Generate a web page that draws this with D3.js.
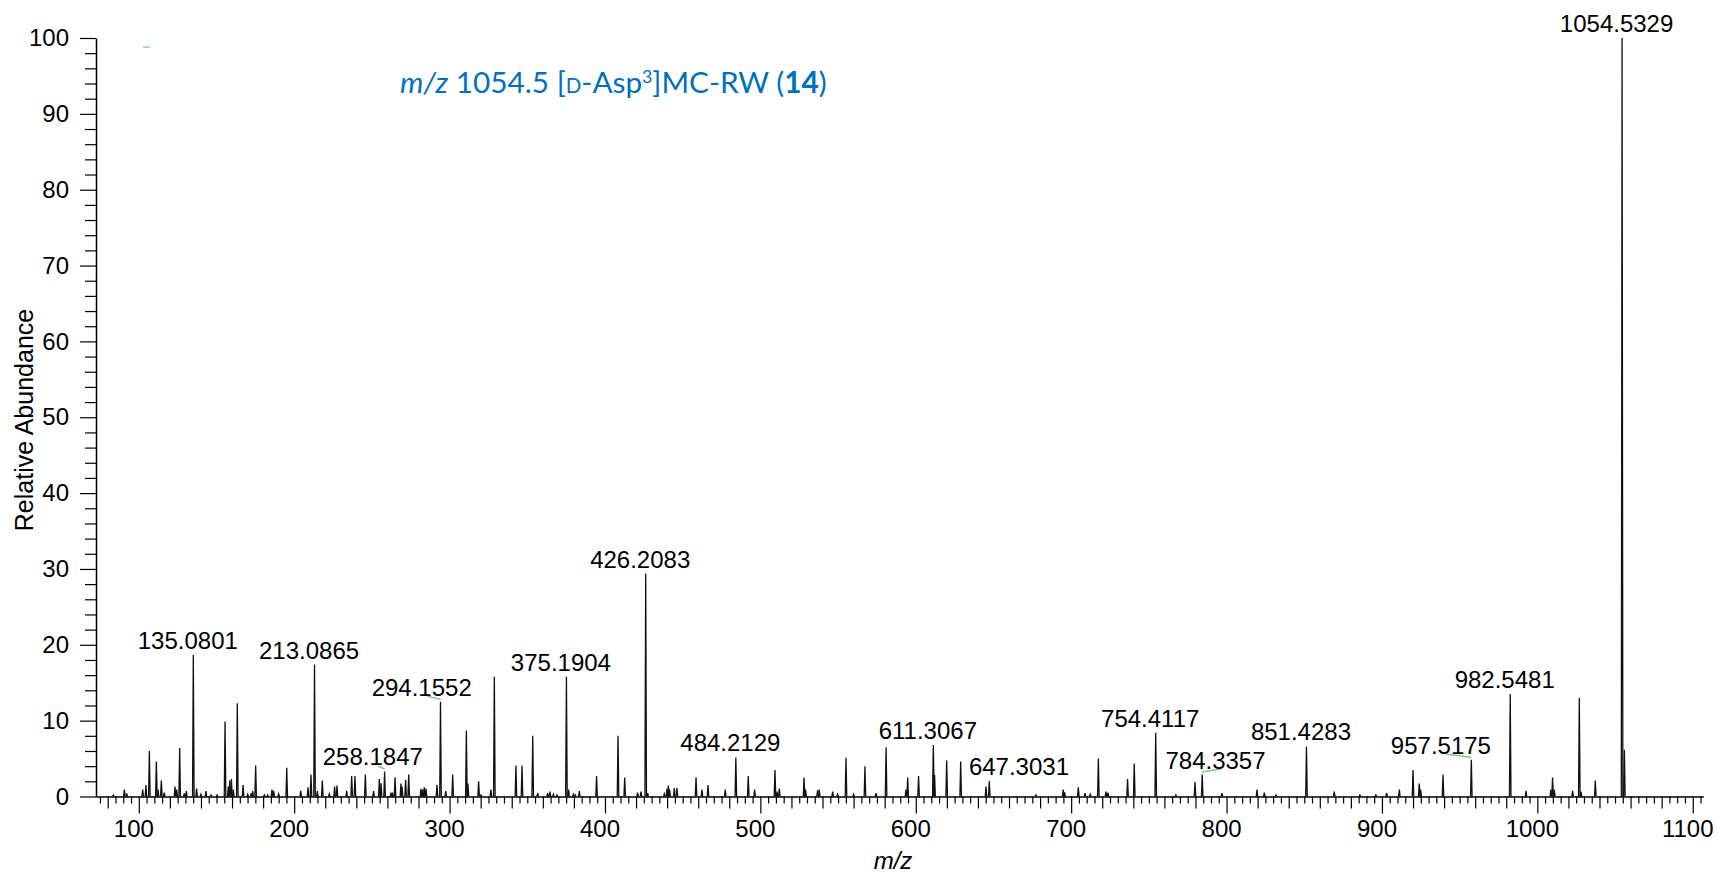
<!DOCTYPE html>
<html>
<head>
<meta charset="utf-8">
<script src="https://cdn.jsdelivr.net/npm/d3@7"></script>
<style>
  html, body { margin: 0; padding: 0; background: #fff; }
  svg { display: block; }
  text { font-family: "Liberation Sans", Arial, sans-serif; }
</style>
</head>
<body>
<svg id="chart" width="1717" height="874"></svg>
<script>
// MS/MS spectrum of m/z 1054.5 — centroid peaks (m/z, relative abundance %)
const peakMz = [
  83.6, 90.7, 92.2, 102.5, 104.6, 106.8, 111.3, 112.4, 114.5, 116.4,
  123.3, 124.4, 126.3, 129.3, 130.6, 135.0801, 137.2, 140.0, 143.2, 146.5,
  150.4, 155.5, 157.6, 158.5, 159.6, 160.8, 163.4, 167.1, 170.1, 172.4,
  173.3, 175.2, 180.8, 182.9, 185.7, 186.8, 190.0, 195.2, 204.2, 208.9,
  210.8, 213.0865, 214.9, 218.1, 222.6, 226.0, 227.5, 233.8, 237.0, 239.1,
  245.8, 251.1, 254.8, 255.9, 258.1847, 262.3, 263.4, 264.9, 268.7, 269.4,
  271.7, 273.7, 281.6, 282.7, 283.7, 284.8, 291.9, 294.1552, 297.5, 302.0,
  310.8, 311.8, 318.7, 320.2, 326.6, 328.8,
  342.7, 346.6, 353.5, 356.7, 363.1, 364.6, 366.8, 369.1, 375.1904, 376.6,
  379.6, 380.9, 383.5, 394.6, 408.4, 412.7, 421.0, 423.2, 426.2083, 427.5,
  438.2, 439.9, 440.8, 441.6, 444.6, 446.3, 458.6, 462.4, 466.3, 477.4,
  484.2129, 492.2, 496.3, 509.4, 510.7, 512.2, 528.1, 529.1, 536.8, 537.9,
  546.5, 549.7, 555.1, 560.0, 567.3, 574.4, 580.9,
  593.7, 594.8, 601.8, 611.3067, 612.1, 619.9, 628.9, 645.2, 647.3031, 677.3,
  694.9, 695.8, 704.6, 708.9, 712.3, 717.5, 722.4, 723.7, 736.3, 740.6,
  754.4117, 767.4, 779.7, 784.3357, 797.0, 819.6, 824.3, 831.8,
  851.4283, 869.3, 885.8, 896.1, 903.0, 911.2, 920.0, 924.0, 924.9, 939.3,
  957.5175, 982.5481, 992.7, 1008.7, 1009.8, 1010.9, 1022.7, 1027.0, 1028.1, 1037.3,
  1054.5329, 1056.0
];
const peakIntensity = [
  0.2, 0.9, 0.4, 0.9, 1.5, 6.0, 4.6, 0.9, 2.1, 0.5,
  1.3, 0.9, 6.4, 0.4, 0.7, 18.7, 1.05, 0.3, 0.7, 0.2,
  0.2, 9.9, 1.3, 2.1, 2.3, 0.9, 12.3, 1.5, 0.3, 0.4,
  0.7, 4.1, 0.2, 0.2, 0.9, 0.75, 0.35, 3.8, 0.75, 1.2,
  2.9, 17.4, 0.7, 2.1, 0.35, 1.3, 1.45, 0.75, 2.7, 2.7,
  2.9, 0.7, 2.3, 1.75, 3.3, 0.5, 0.35, 2.55, 1.7, 1.3,
  2.2, 2.9, 1.0, 0.9, 1.2, 1.05, 1.55, 12.5, 0.7, 2.9,
  8.7, 1.7, 2.0, 0.2, 0.9, 15.8,
  4.1, 4.1, 8.0, 0.45, 0.45, 0.65, 0.3, 0.2, 15.8, 0.9,
  0.3, 0.2, 0.7, 2.7, 8.0, 2.5, 0.5, 0.65, 29.4, 0.45,
  0.35, 1.05, 1.45, 0.9, 1.1, 1.1, 2.55, 0.9, 1.5, 0.9,
  5.15, 2.7, 0.9, 3.5, 0.65, 1.05, 2.5, 0.9, 0.8, 0.9,
  0.65, 0.3, 5.1, 0.3, 4.0, 0.45, 6.5,
  0.9, 2.5, 2.7, 6.8, 2.85, 4.75, 4.6, 1.3, 2.05, 0.2,
  0.9, 0.55, 1.2, 0.45, 0.3, 5.0, 0.65, 0.5, 2.3, 4.35,
  8.4, 0.2, 1.9, 2.9, 0.45, 0.9, 0.5, 0.2,
  6.6, 0.65, 0.2, 0.2, 0.45, 0.9, 3.5, 1.7, 0.9, 2.9,
  4.85, 13.5, 0.75, 0.9, 2.5, 0.9, 0.75, 13.0, 0.65, 2.1,
  100, 6.15
];

// Annotated fragment masses
const labeledMz = [
  135.0801, 213.0865, 258.1847, 294.1552, 375.1904, 426.2083, 484.2129,
  611.3067, 647.3031, 754.4117, 784.3357, 851.4283, 957.5175, 982.5481, 1054.5329
];

// Axis ticks
const yMajorTicks = d3.range(0, 101, 10);
const yMinorTicks = d3.range(0, 101, 2).filter(v => v % 10 !== 0);
const xMajorTicks = d3.range(100, 1101, 100);
const xMidTicks = d3.range(80, 1101, 20).filter(v => v % 100 !== 0);
const xMinorTicks = d3.range(75, 1106, 5).filter(v => v % 20 !== 0);

// Horizontal nudges (px) for labels that are pushed aside to avoid overlap
const labelShift = { "258.1847": -6.3, "294.1552": -13.3, "647.3031": 35.2, "784.3357": 18.8, "957.5175": -24.9 };
// Text in this export sits a little left of its anchor
const textOffset = -5.5;

const svg = d3.select("#chart");
const x = d3.scaleLinear().domain([72.46, 1106.8]).range([96, 1703.3]);
const y = d3.scaleLinear().domain([0, 100]).range([796.5, 38]);

const peaks = peakMz.map((m, i) => ({ mz: m, ab: peakIntensity[i] }));

// Peak profiles
const halfWidth = 0.5;
const line = d3.line().x(d => x(d[0])).y(d => y(d[1]));
svg.append("g")
  .selectAll("path")
  .data(peaks)
  .join("path")
  .attr("d", d => line([[d.mz - halfWidth, 0], [d.mz, d.ab], [d.mz + halfWidth, 0]]))
  .attr("fill", "none")
  .attr("stroke", "#111")
  .attr("stroke-width", 1.3)
  .attr("stroke-linejoin", "miter");

// Axes
function styleAxis(g) {
  g.selectAll("line").attr("stroke", "#000").attr("stroke-width", 1.2);
  g.selectAll("path").attr("stroke", "#000").attr("stroke-width", 1.5);
  g.selectAll("text").attr("fill", "#000").style("font-size", "24px")
    .style("font-family", '"Liberation Sans", Arial, sans-serif');
}
const fmt = d3.format("d");
svg.append("g").attr("transform", "translate(96,0)")
  .call(d3.axisLeft(y).tickValues(yMinorTicks).tickSize(11).tickSizeOuter(0).tickFormat(""))
  .call(g => g.select(".domain").remove())
  .call(styleAxis);
svg.append("g").attr("transform", "translate(96,0)")
  .call(d3.axisLeft(y).tickValues(yMajorTicks).tickSize(16).tickPadding(11).tickSizeOuter(0).tickFormat(fmt))
  .call(styleAxis);

const x0 = y(0);
svg.append("g").attr("transform", `translate(0,${x0})`)
  .call(d3.axisBottom(x).tickValues(xMinorTicks).tickSize(7).tickSizeOuter(0).tickFormat(""))
  .call(styleAxis);
svg.append("g").attr("transform", `translate(0,${x0})`)
  .call(d3.axisBottom(x).tickValues(xMidTicks).tickSize(12).tickSizeOuter(0).tickFormat(""))
  .call(g => g.select(".domain").remove())
  .call(styleAxis);
svg.append("g").attr("transform", `translate(0,${x0})`)
  .call(d3.axisBottom(x).tickValues(xMajorTicks).tickSize(17).tickPadding(6.5).tickSizeOuter(0).tickFormat(fmt))
  .call(g => g.select(".domain").remove())
  .call(styleAxis)
  .call(g => g.selectAll(".tick text").attr("dx", textOffset));

// Peak annotations
const labels = labeledMz.map(m => {
  const p = peaks.find(d => d.mz === m);
  return { mz: m, ab: p.ab, shift: labelShift[m.toFixed(4)] || 0 };
});
const ann = svg.append("g");
ann.selectAll("line")
  .data(labels.filter(d => d.shift !== 0 && d.mz !== 647.3031))
  .join("line")
  .attr("x1", d => x(d.mz) + d.shift)
  .attr("y1", d => y(d.ab) - 5.5)
  .attr("x2", d => x(d.mz))
  .attr("y2", d => y(d.ab) - 2.5)
  .attr("stroke", "#7dcf7d")
  .attr("stroke-width", 1.5);
ann.selectAll("text")
  .data(labels)
  .join("text")
  .attr("x", d => x(d.mz) + d.shift + textOffset)
  .attr("y", d => y(d.ab) - 6)
  .attr("text-anchor", "middle")
  .style("font-size", "24px")
  .attr("fill", "#000")
  .text(d => d.mz.toFixed(4));

// Small leader stub near the top-left corner
svg.append("line")
  .attr("x1", x(102.7)).attr("x2", x(107.2))
  .attr("y1", y(98.8)).attr("y2", y(98.8))
  .attr("stroke", "#7dcf7d").attr("stroke-width", 1.2);

// Axis titles
svg.append("text")
  .attr("transform", "translate(33,420) rotate(-90)")
  .attr("text-anchor", "middle")
  .style("font-size", "25px")
  .attr("fill", "#000")
  .text("Relative Abundance");

const xt = svg.append("text")
  .attr("x", 893).attr("y", 869)
  .attr("text-anchor", "middle")
  .style("font-size", "24px")
  .attr("fill", "#000");
xt.append("tspan").style("font-style", "italic").text("m/z");

// Precursor title
const title = svg.append("text")
  .attr("x", 400).attr("y", 93)
  .attr("fill", "#0070C0")
  .style("font-family", 'Lato, "Open Sans", sans-serif')
  .style("font-size", "32px")
  .style("white-space", "pre");
title.append("tspan").style("font-style", "italic").text("m/z");
title.append("tspan").text(" 1054.5 [");
title.append("tspan").style("font-size", "22px").text("D");
title.append("tspan").text("-Asp");
title.append("tspan").attr("dy", -10).style("font-size", "19px").text("3");
title.append("tspan").attr("dy", 10).text("]MC-RW (");
title.append("tspan").style("font-weight", "bold").text("14");
title.append("tspan").text(")");
// fit the title to its intended span
const tw = title.node().getComputedTextLength();
const target = 427;
if (Math.abs(tw - target) > 2) {
  const k = target / tw;
  title.style("font-size", (32 * k) + "px");
  title.selectAll("tspan").each(function () {
    const fs = this.style.fontSize;
    if (fs) d3.select(this).style("font-size", (parseFloat(fs) * k) + "px");
  });
}
</script>
</body>
</html>
